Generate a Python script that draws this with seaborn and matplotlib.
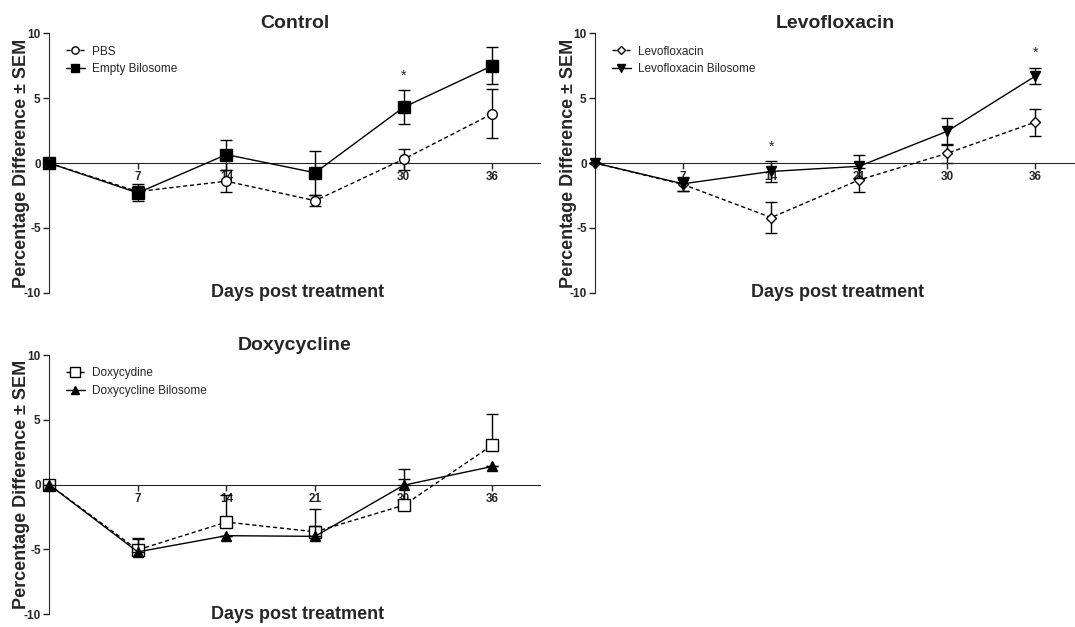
import pandas as pd
import matplotlib
matplotlib.use("Agg")
import matplotlib.pyplot as plt
import seaborn as sns

# --- data ---
days = [0, 7, 14, 21, 30, 36]

ctrl_labels = ["PBS", "Empty Bilosome"]
pbs_mean = [0.0, -2.2, -1.4, -2.9, 0.3, 3.8]
pbs_sem = [0.0, 0.4, 0.85, 0.45, 0.8, 1.9]
empty_mean = [0.0, -2.3, 0.65, -0.75, 4.3, 7.5]
empty_sem = [0.0, 0.65, 1.15, 1.7, 1.3, 1.45]
ctrl_stars = [4]

levo_labels = ["Levofloxacin", "Levofloxacin Bilosome"]
levo_mean = [0.0, -1.65, -4.2, -1.3, 0.75, 3.15]
levo_sem = [0.0, 0.5, 1.2, 0.9, 0.75, 1.05]
levobil_mean = [0.0, -1.6, -0.65, -0.25, 2.45, 6.7]
levobil_sem = [0.0, 0.55, 0.8, 0.9, 1.05, 0.65]
levo_stars = [2, 5]

doxy_labels = ["Doxycydine", "Doxycycline Bilosome"]
doxy_mean = [0.0, -5.05, -2.9, -3.65, -1.6, 3.05]
doxy_sem = [0.0, 0.95, 2.1, 1.75, 2.0, 2.4]
doxybil_mean = [0.0, -5.2, -3.95, -4.0, -0.05, 1.4]
doxybil_sem = [0.0, 1.0, 0.0, 0.8, 1.25, 0.0]
doxy_stars = []

sns.set_style("ticks")
plt.rcParams["font.family"] = ["Liberation Sans", "DejaVu Sans"]
plt.rcParams["axes.unicode_minus"] = False

fig = plt.figure(figsize=(10.75, 6.27), dpi=100)
ax_ctrl = fig.add_axes([0.0456, 0.533, 0.457, 0.414])
ax_levo = fig.add_axes([0.5535, 0.533, 0.4465, 0.414])
ax_doxy = fig.add_axes([0.0456, 0.0207, 0.457, 0.413])


def draw_panel(ax, title, labels, means, sems, markers, msizes, stars, xmax, up_only=False):
    pos = list(range(len(days)))
    styles = [(0, (3, 2)), "-"]
    fills = ["white", "black"]
    for i in range(2):
        df = pd.DataFrame({"pos": pos, "val": means[i]})
        sns.lineplot(data=df, x="pos", y="val", ax=ax, color="black", lw=1.0,
                     linestyle=styles[i], marker=markers[i], markersize=msizes[i],
                     markerfacecolor=fills[i], markeredgecolor="black", markeredgewidth=1.0,
                     label=labels[i], clip_on=False, zorder=3 + i)
        lower = [0] * len(pos) if up_only else sems[i]
        ax.errorbar(pos, means[i], yerr=[lower, sems[i]], fmt="none", ecolor="black",
                    elinewidth=1.0, capsize=4, capthick=1.0, zorder=2 + i, clip_on=False)
    for s in stars:
        top = max(means[1][s] + sems[1][s], means[0][s] + sems[0][s])
        ax.text(s, top + 0.6, "*", ha="center", va="bottom", fontsize=10)

    ax.spines["top"].set_visible(False)
    ax.spines["right"].set_visible(False)
    ax.spines["bottom"].set_position(("data", 0))
    ax.set_xlim(0, xmax)
    ax.set_ylim(-10, 10)
    ax.set_yticks([-10, -5, 0, 5, 10])
    ax.set_yticklabels(["-10", "-5", "0", "5", "10"], fontweight="bold")
    ax.set_xticks(pos[1:])
    ax.set_xticklabels([str(d) for d in days[1:]], fontweight="bold")
    ax.tick_params(axis="both", labelsize=8.5, length=4, width=1, pad=2, direction="out")
    ax.set_xlabel("")
    ax.set_ylabel("")
    ax.text(-0.055, 0.5, "Percentage Difference \u00b1 SEM", transform=ax.transAxes,
            rotation=90, ha="center", va="center", fontsize=13, fontweight="bold")
    ax.text(0.505, 0.0, "Days post treatment", transform=ax.transAxes,
            ha="center", va="center", fontsize=13, fontweight="bold")
    ax.set_title(title, fontsize=14, fontweight="bold", pad=4)
    ax.legend(loc="upper left", bbox_to_anchor=(0.02, 0.98), frameon=False, fontsize=8.5,
              handlelength=1.6, handletextpad=0.6, labelspacing=0.5, borderaxespad=0.2,
              markerscale=0.75)


draw_panel(ax_ctrl, "Control", ctrl_labels, [pbs_mean, empty_mean], [pbs_sem, empty_sem],
           ["o", "s"], [7, 8], ctrl_stars, 5.54)
draw_panel(ax_levo, "Levofloxacin", levo_labels, [levo_mean, levobil_mean], [levo_sem, levobil_sem],
           ["D", "v"], [5.5, 7], levo_stars, 5.45)
draw_panel(ax_doxy, "Doxycycline", doxy_labels, [doxy_mean, doxybil_mean], [doxy_sem, doxybil_sem],
           ["s", "^"], [9, 7], doxy_stars, 5.54, up_only=True)

fig.savefig("out.png", dpi=100, facecolor="white")
